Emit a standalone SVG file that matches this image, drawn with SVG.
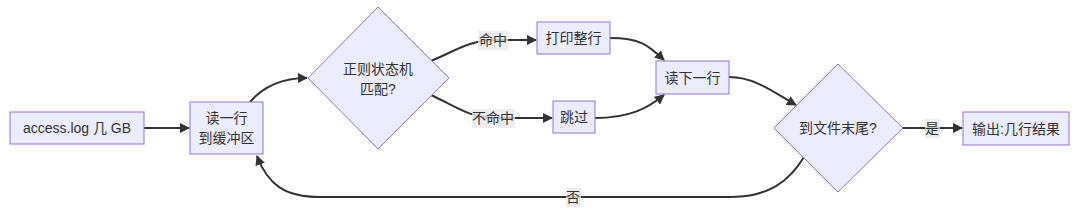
<svg xmlns="http://www.w3.org/2000/svg" width="1080" height="220" viewBox="0 0 1080 220">
<style>
.node{fill:#ECECFF;stroke:#9370DB;stroke-width:1}
text{font-family:"Liberation Sans","Noto Sans CJK SC",sans-serif;font-size:14px;fill:#333;text-anchor:middle;dominant-baseline:central}
.edge{fill:none;stroke:#333;stroke-width:2}
.lbl{fill:#e8e8e8;fill-opacity:0.8}
</style>
<defs>
<marker id="arr" viewBox="0 0 10 10" refX="9" refY="5" markerWidth="10" markerHeight="10" markerUnits="userSpaceOnUse" orient="auto">
<path d="M0,0 L10,5 L0,10 z" fill="#333"/>
</marker>
</defs>
<rect width="1080" height="220" fill="#fff"/>
<g id="connectors">
<path class="edge" d="M144,128 L189,128" marker-end="url(#arr)"/>
<path class="edge" d="M250,102 C262,88 280,78 307,78" marker-end="url(#arr)"/>
<path class="edge" d="M431,61 C455,51 470,40 495,40 L536,40" marker-end="url(#arr)"/>
<path class="edge" d="M431,95 C455,106 470,118 495,118 L552,118" marker-end="url(#arr)"/>
<path class="edge" d="M610,38 C640,38 648,45 664,60" marker-end="url(#arr)"/>
<path class="edge" d="M595,118 C630,118 648,108 664,95" marker-end="url(#arr)"/>
<path class="edge" d="M729,77 C755,77 775,93 796,105" marker-end="url(#arr)"/>
<path class="edge" d="M903,128 L962,128" marker-end="url(#arr)"/>
<path class="edge" d="M804,157 C790,180 770,197 730,197 L320,197 C285,197 268,185 257,156" marker-end="url(#arr)"/>
<rect class="lbl" x="478" y="31" width="30" height="19"/>
<text x="493" y="40">命中</text>
<rect class="lbl" x="472" y="109" width="43" height="19"/>
<text x="493" y="118">不命中</text>
<rect class="lbl" x="925" y="119" width="15" height="19"/>
<text x="932" y="128">是</text>
<rect class="lbl" x="566" y="188" width="15" height="19"/>
<text x="573" y="197">否</text>
</g>
<g id="A"><rect class="node" x="10" y="112" width="134" height="32"/><text x="77" y="128">access.log 几 GB</text></g>
<g id="B"><rect class="node" x="190" y="102" width="73" height="52"/><text x="226.5" y="118">读一行</text><text x="226.5" y="138">到缓冲区</text></g>
<g id="C"><polygon class="node" points="378,7 449,78 378,149 308,78"/><text x="378" y="69">正则状态机</text><text x="378" y="89">匹配?</text></g>
<g id="D"><rect class="node" x="537" y="22" width="73" height="32"/><text x="573.5" y="38">打印整行</text></g>
<g id="E"><rect class="node" x="553" y="101" width="42" height="32"/><text x="574" y="117">跳过</text></g>
<g id="F"><rect class="node" x="656" y="61" width="73" height="33"/><text x="692.5" y="77.5">读下一行</text></g>
<g id="G"><polygon class="node" points="838,64 903,128 838,192 774,128"/><text x="838" y="128">到文件末尾?</text></g>
<g id="H"><rect class="node" x="963" y="112" width="106" height="33"/><text x="1016" y="128.5">输出:几行结果</text></g>
</svg>
